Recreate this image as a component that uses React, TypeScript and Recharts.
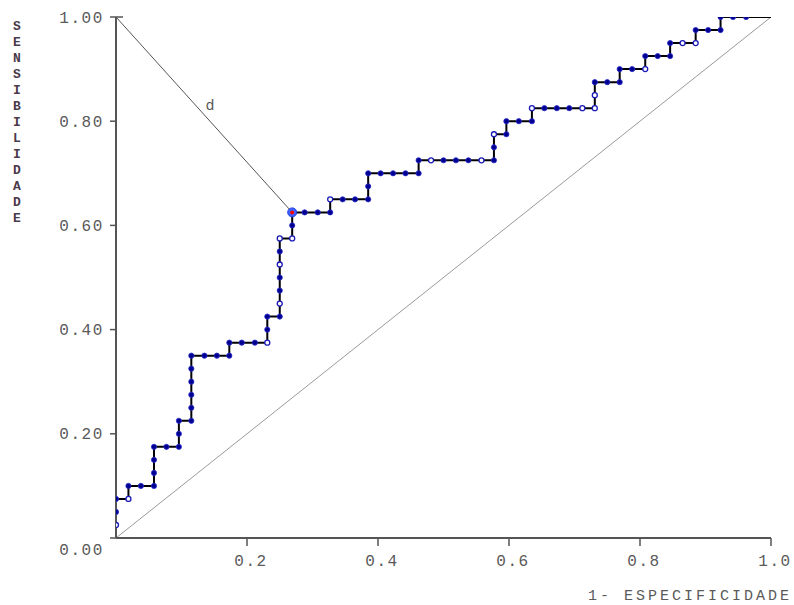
import React from "react";
import { ComposedChart, Line, Scatter, XAxis, YAxis, Label, ReferenceDot } from "recharts";

// ROC curve points (1 - especificidade, sensibilidade)
const rocFpr = [
  0, 0, 0, 0.019, 0.019, 0.038, 0.058, 0.058, 0.058, 0.058,
  0.077, 0.096, 0.096, 0.096, 0.115, 0.115, 0.115, 0.115, 0.115, 0.115,
  0.135, 0.154, 0.173, 0.173, 0.192, 0.212, 0.231, 0.231, 0.231, 0.25,
  0.25, 0.25, 0.25, 0.25, 0.25, 0.25, 0.269, 0.269, 0.269, 0.288,
  0.308, 0.327, 0.327, 0.346, 0.365, 0.385, 0.385, 0.385, 0.404, 0.423,
  0.442, 0.462, 0.462, 0.481, 0.5, 0.519, 0.538, 0.558, 0.577, 0.577,
  0.577, 0.596, 0.596, 0.615, 0.635, 0.635, 0.654, 0.673, 0.692, 0.712,
  0.731, 0.731, 0.731, 0.75, 0.769, 0.769, 0.788, 0.808, 0.808, 0.827,
  0.846, 0.846, 0.865, 0.885, 0.885, 0.904, 0.923, 0.923, 0.942, 0.962,
];
const rocSens = [
  0.025, 0.05, 0.075, 0.075, 0.1, 0.1, 0.1, 0.125, 0.15, 0.175,
  0.175, 0.175, 0.2, 0.225, 0.225, 0.25, 0.275, 0.3, 0.325, 0.35,
  0.35, 0.35, 0.35, 0.375, 0.375, 0.375, 0.375, 0.4, 0.425, 0.425,
  0.45, 0.475, 0.5, 0.525, 0.55, 0.575, 0.575, 0.6, 0.625, 0.625,
  0.625, 0.625, 0.65, 0.65, 0.65, 0.65, 0.675, 0.7, 0.7, 0.7,
  0.7, 0.7, 0.725, 0.725, 0.725, 0.725, 0.725, 0.725, 0.725, 0.75,
  0.775, 0.775, 0.8, 0.8, 0.8, 0.825, 0.825, 0.825, 0.825, 0.825,
  0.825, 0.85, 0.875, 0.875, 0.875, 0.9, 0.9, 0.9, 0.925, 0.925,
  0.925, 0.95, 0.95, 0.95, 0.975, 0.975, 0.975, 1, 1, 1,
];
// points drawn as open circles
const hollowIdx = [0, 3, 26, 30, 33, 35, 36, 42, 53, 57, 60, 65, 69, 70, 71, 77, 82, 83];

const curveStart = { x: 0, y: 0 };
const curveEnd = { x: 1, y: 1 };
const optimalFpr = 0.269;
const optimalSens = 0.625;
const perfectPoint = { x: 0, y: 1 };

const xTicks = [0.2, 0.4, 0.6, 0.8, 1.0];
const yTicks = [0, 0.2, 0.4, 0.6, 0.8, 1.0];
const xTitle = "1- ESPECIFICIDADE";
const yTitle = "SENSIBILIDADE";
const distLabel = "d";

const rocPoints = rocFpr.map((x, i) => ({ x, y: rocSens[i], hollow: hollowIdx.includes(i) }));
const rocPath = [curveStart, ...rocPoints, curveEnd];
const chanceLine = [curveStart, curveEnd];
const dLine = [perfectPoint, { x: optimalFpr, y: optimalSens }];
const optimalData = [{ x: optimalFpr, y: optimalSens }];

const FONT = "'Liberation Mono', 'DejaVu Sans Mono', monospace";
const TEXT_COLOR = "#5a5a5a";
const AXIS_COLOR = "#555";

const YTick = (props: any) => {
  const { x, y, payload } = props;
  const v = payload.value as number;
  const dy = v === 0 ? 17 : 5.5;
  return (
    <g>
      {v === 1 && (
        <line x1={x + 13} x2={x + 20} y1={y} y2={y} stroke={AXIS_COLOR} strokeWidth={1.5} />
      )}
      <text x={x + 1} y={y + dy} textAnchor="end" fontFamily={FONT} fontSize={16} letterSpacing={1.6} fill={TEXT_COLOR}>
        {v.toFixed(2)}
      </text>
    </g>
  );
};

const XTick = (props: any) => {
  const { x, y, payload } = props;
  const v = payload.value as number;
  return (
    <text x={x + 4} y={y + 16} textAnchor="middle" fontFamily={FONT} fontSize={16} letterSpacing={1.6} fill={TEXT_COLOR}>
      {v.toFixed(1)}
    </text>
  );
};

const XTitle = (props: any) => {
  const vb = props.viewBox || {};
  const right = (vb.x || 0) + (vb.width || 0);
  return (
    <text x={right - 183} y={600} textAnchor="start" fontFamily={FONT} fontSize={15} letterSpacing={3} fill={TEXT_COLOR}>
      {xTitle}
    </text>
  );
};

const YTitle = () => (
  <text fontFamily={FONT} fontSize={13} fontWeight="bold" fill="#4a3a4a" textAnchor="middle">
    {yTitle.split("").map((ch, i) => (
      <tspan key={i} x={17} y={29.5 + i * 16}>
        {ch}
      </tspan>
    ))}
  </text>
);

const RocDot = (props: any) => {
  const { cx, cy, payload } = props;
  if (cx == null || cy == null) return <g />;
  if (payload && payload.hollow) {
    return <circle cx={cx} cy={cy} r={2.5} fill="#ffffff" stroke="#1a1ab8" strokeWidth={1.3} />;
  }
  return <circle cx={cx} cy={cy} r={2.6} fill="#00008e" stroke="#2b2bd0" strokeWidth={0.8} />;
};

const OptimalDot = (props: any) => {
  const { cx, cy } = props;
  if (cx == null || cy == null) return <g />;
  return (
    <g>
      <circle cx={cx} cy={cy} r={4.5} fill="#4060ff" stroke="#2040e0" strokeWidth={1} />
      <circle cx={cx} cy={cy} r={2} fill="#ff0000" />
    </g>
  );
};

const DLabel = (props: any) => {
  const vb = props.viewBox || {};
  const cx = vb.cx != null ? vb.cx : (vb.x || 0) + (vb.width || 0) / 2;
  const cy = vb.cy != null ? vb.cy : (vb.y || 0) + (vb.height || 0) / 2;
  return (
    <text x={cx + 6} y={cy - 5} textAnchor="middle" fontFamily={FONT} fontSize={15} fill={TEXT_COLOR}>
      {distLabel}
    </text>
  );
};

export default function App() {
  return (
    <div style={{ position: "absolute", left: 0, top: 0, width: 794, height: 605 }}>
      <ComposedChart width={794} height={605} margin={{ top: 17, right: 23, bottom: 0, left: 0 }}>
        <XAxis
          type="number"
          dataKey="x"
          domain={[0, 1]}
          ticks={xTicks}
          allowDataOverflow
          height={67}
          axisLine={{ stroke: AXIS_COLOR, strokeWidth: 2 }}
          tickLine={{ stroke: AXIS_COLOR, strokeWidth: 1.5 }}
          tickSize={8}
          tickMargin={4}
          tick={<XTick />}
        >
          <Label content={<XTitle />} />
        </XAxis>
        <YAxis
          type="number"
          dataKey="y"
          domain={[0, 1]}
          ticks={yTicks}
          allowDataOverflow
          width={116}
          axisLine={{ stroke: AXIS_COLOR, strokeWidth: 2 }}
          tickLine={{ stroke: AXIS_COLOR, strokeWidth: 1.5 }}
          tickSize={6}
          tickMargin={7}
          tick={<YTick />}
        >
          <Label content={<YTitle />} />
        </YAxis>
        <Line
          data={chanceLine}
          dataKey="y"
          type="linear"
          stroke="#9a9a9a"
          strokeWidth={1}
          dot={false}
          activeDot={false}
          isAnimationActive={false}
        />
        <Line
          data={dLine}
          dataKey="y"
          type="linear"
          stroke="#555"
          strokeWidth={1}
          dot={false}
          activeDot={false}
          isAnimationActive={false}
        />
        <Line
          data={rocPath}
          dataKey="y"
          type="linear"
          stroke="#000"
          strokeWidth={2}
          dot={false}
          activeDot={false}
          isAnimationActive={false}
        />
        <Scatter data={rocPoints} dataKey="y" shape={<RocDot />} isAnimationActive={false} />
        <Scatter data={optimalData} dataKey="y" shape={<OptimalDot />} isAnimationActive={false} />
        <ReferenceDot
          x={(perfectPoint.x + optimalFpr) / 2}
          y={(perfectPoint.y + optimalSens) / 2}
          r={0}
          fill="none"
          stroke="none"
          label={<DLabel />}
        />
      </ComposedChart>
    </div>
  );
}
